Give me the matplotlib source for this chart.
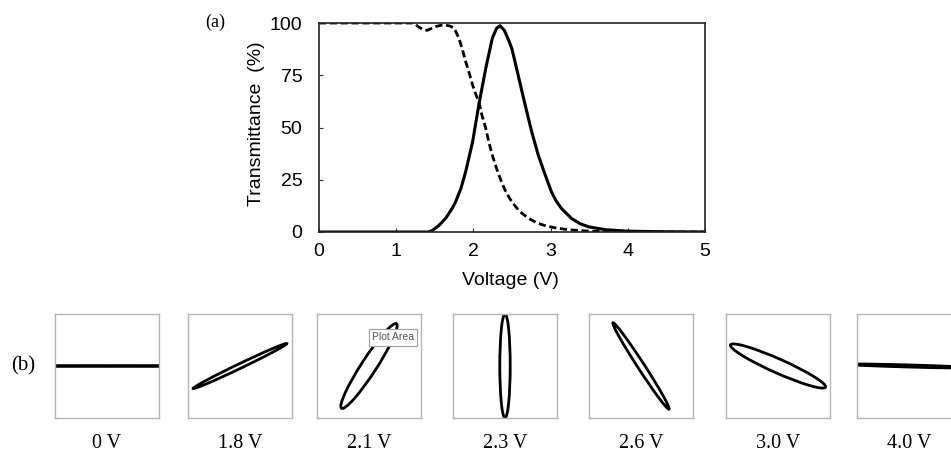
import matplotlib
matplotlib.use('Agg')
import matplotlib.pyplot as plt
from matplotlib.patches import Ellipse
from matplotlib import rcParams
rcParams['font.family'] = 'sans-serif'
rcParams['font.sans-serif'] = ['Liberation Sans', 'DejaVu Sans']

# (a) transmittance curves
volt_solid = [0, 1.0, 1.42, 1.47, 1.55, 1.64, 1.72, 1.77, 1.84, 1.90, 1.99, 2.07, 2.16, 2.245, 2.30, 2.345,
              2.40, 2.46, 2.50, 2.58, 2.67, 2.755, 2.84, 2.93, 3.01, 3.07, 3.14, 3.27, 3.38, 3.49, 3.71,
              4.0, 4.5, 5.0]
trans_solid = [0, 0, 0, 0.8, 3, 6.5, 11, 14.5, 21, 28.9, 43.2, 60.8, 78.3, 92.7, 97.5, 98.7,
               96.5, 91.5, 87.5, 75, 60.8, 48, 36.8, 27.3, 19.3, 15, 11.3, 6.5, 4, 2.5, 1.1,
               0.4, 0.1, 0]
volt_dash = [0, 1.21, 1.25, 1.295, 1.35, 1.40, 1.45, 1.51, 1.58, 1.64, 1.70, 1.75, 1.81, 1.86, 1.90,
             1.95, 1.99, 2.03, 2.07, 2.11, 2.16, 2.20, 2.245, 2.29, 2.33, 2.38, 2.42, 2.48, 2.54, 2.60,
             2.67, 2.75, 2.84, 2.95, 3.06, 3.17, 3.27, 3.45, 3.66, 4.0, 5.0]
trans_dash = [100, 100, 99.3, 98, 96.8, 96.5, 97.3, 98.3, 98.9, 99, 98.5, 97.5, 93, 87, 81.5,
              75.5, 70.3, 66, 62.3, 56, 49.6, 43, 36.8, 31.5, 27.3, 22.5, 19.3, 15.5, 12.5, 9.8,
              7.8, 5.8, 4.1, 2.8, 2.0, 1.4, 1.0, 0.5, 0.2, 0, 0]

# (b) polarization ellipses: semi-major, semi-minor (box half-width = 1), tilt in degrees
state_labels = ['0 V', '1.8 V', '2.1 V', '2.3 V', '2.6 V', '3.0 V', '4.0 V']
semi_major = [1.0, 1.0, 0.97, 1.0, 0.99, 1.0, 1.2]
semi_minor = [0.005, 0.045, 0.145, 0.10, 0.065, 0.135, 0.02]
tilt = [0, 25.6, 57, 90, 123, -24, -1.6]

W, H = 951, 454
fig = plt.figure(figsize=(W / 100, H / 100), dpi=100)

ax1 = fig.add_axes([319 / W, 1 - 232 / H, 386 / W, 209 / H])
ax1.plot(volt_solid, trans_solid, color='black', lw=2.2, solid_joinstyle='round')
ax1.plot(volt_dash, trans_dash, color='black', lw=2.0, linestyle=(0, (2.6, 1.3)))
ax1.set_xlim(0, 5)
ax1.set_ylim(0, 100)
ax1.set_xticks([0, 1, 2, 3, 4, 5])
ax1.set_yticks([0, 25, 50, 75, 100])
ax1.tick_params(direction='in', length=3, width=0.8, labelsize=14, color='#333333')
ax1.tick_params(axis='x', pad=8)
ax1.tick_params(axis='y', pad=12)
for s in ax1.spines.values():
    s.set_linewidth(1.2)
    s.set_color('#222222')
ax1.set_xlabel('Voltage (V)', fontsize=14)
ax1.set_ylabel('Transmittance  (%)', fontsize=14)
ax1.xaxis.set_label_coords(0.497, -0.234)
ax1.xaxis.label.set_va('center')
ax1.yaxis.set_label_coords(-0.163, 0.52)
ax1.yaxis.label.set_va('center')

fig.text(215 / W, 1 - 22 / H, '(a)', family='Liberation Serif', fontsize=13, ha='center', va='center')
fig.text(23 / W, 1 - 366 / H, '(b)', family='Liberation Serif', fontsize=15, ha='center', va='center')

box_left = [55, 188, 317, 453, 589, 726, 857]
for i in range(len(state_labels)):
    ax = fig.add_axes([box_left[i] / W, 1 - 418 / H, 104 / W, 104 / H])
    ax.set_xlim(-1, 1)
    ax.set_ylim(-1, 1)
    ax.set_xticks([])
    ax.set_yticks([])
    for s in ax.spines.values():
        s.set_color('#b4b4b4')
        s.set_linewidth(1.0)
    e = Ellipse((0, 0), 2 * semi_major[i], 2 * semi_minor[i], angle=tilt[i],
                facecolor='none', edgecolor='black', lw=2.0)
    ax.add_patch(e)
    fig.text((box_left[i] + 52) / W, 1 - 453 / H, state_labels[i], family='Liberation Serif',
             fontsize=14.5, ha='center', va='bottom')

fig.text(393 / W, 1 - 337.5 / H, 'Plot Area', fontsize=7.5, color='#555555', ha='center', va='center',
         bbox=dict(boxstyle='square,pad=0.3', facecolor='white', edgecolor='#a0a0a0', lw=0.8))

fig.savefig('out.png', dpi=100)
